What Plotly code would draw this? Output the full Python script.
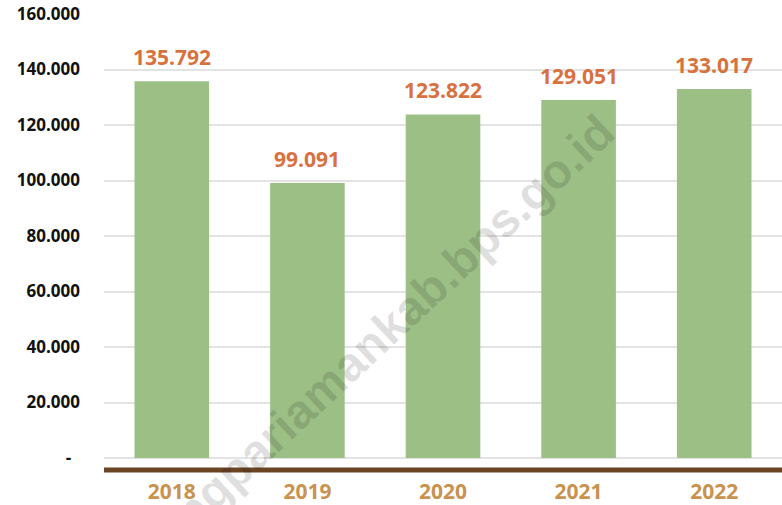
import plotly.graph_objects as go

years = ["2018", "2019", "2020", "2021", "2022"]
values = [135792, 99091, 123822, 129051, 133017]
value_labels = ["135.792", "99.091", "123.822", "129.051", "133.017"]
tick_vals = [0, 20000, 40000, 60000, 80000, 100000, 120000, 140000, 160000]
tick_text = ["-\u00a0\u00a0", "20.000", "40.000", "60.000", "80.000", "100.000",
             "120.000", "140.000", "160.000"]

FONT = "Open Sans"

fig = go.Figure()
fig.add_trace(go.Bar(
    x=years, y=values, marker=dict(color="#9CBF86", line=dict(width=0)),
    width=0.55, hoverinfo="skip",
))

for i, (v, lab) in enumerate(zip(values, value_labels)):
    fig.add_annotation(
        x=i, y=v, xref="x", yref="y", text=lab, showarrow=False,
        xanchor="center", yanchor="middle", yshift=24,
        font=dict(family=FONT, size=21, color="#D9713F", weight="bold"),
    )

# watermark
fig.add_annotation(
    x=0.367, y=0.24, xref="paper", yref="paper",
    xanchor="center", yanchor="middle",
    text="padangpariamankab.bps.go.id", showarrow=False, textangle=-43,
    font=dict(family="Liberation Sans", size=48, color="rgba(0,0,0,0.13)", weight="bold"),
)

fig.add_shape(type="line", xref="paper", yref="paper", x0=0, x1=1, y0=0, y1=0,
              line=dict(color="#6B4424", width=5))

fig.update_layout(
    width=782, height=505,
    margin=dict(l=104, r=0, t=13, b=35, autoexpand=False),
    paper_bgcolor="white", plot_bgcolor="white",
    showlegend=False,
    bargap=0.45,
    xaxis=dict(
        type="category", range=[-0.5, 4.5], showgrid=False, zeroline=False,
        showline=False, ticks="",
        tickfont=dict(family=FONT, size=21, color="#C9924F", weight="bold"),
        ticklabelstandoff=7, automargin=False,
    ),
    yaxis=dict(
        range=[-4325, 160360], tickvals=tick_vals, ticktext=tick_text,
        showgrid=True, gridcolor="#E3E3E3", gridwidth=2, zeroline=False,
        showline=False, ticks="",
        tickfont=dict(family=FONT, size=17, color="#111111", weight="bold"),
        ticklabelstandoff=23, ticklabeloverflow="allow", automargin=False,
    ),
)

fig.write_html(
    "out.html",
    config={"displayModeBar": False},
    post_script="document.body.style.margin='0';document.body.style.overflow='hidden';",
)
